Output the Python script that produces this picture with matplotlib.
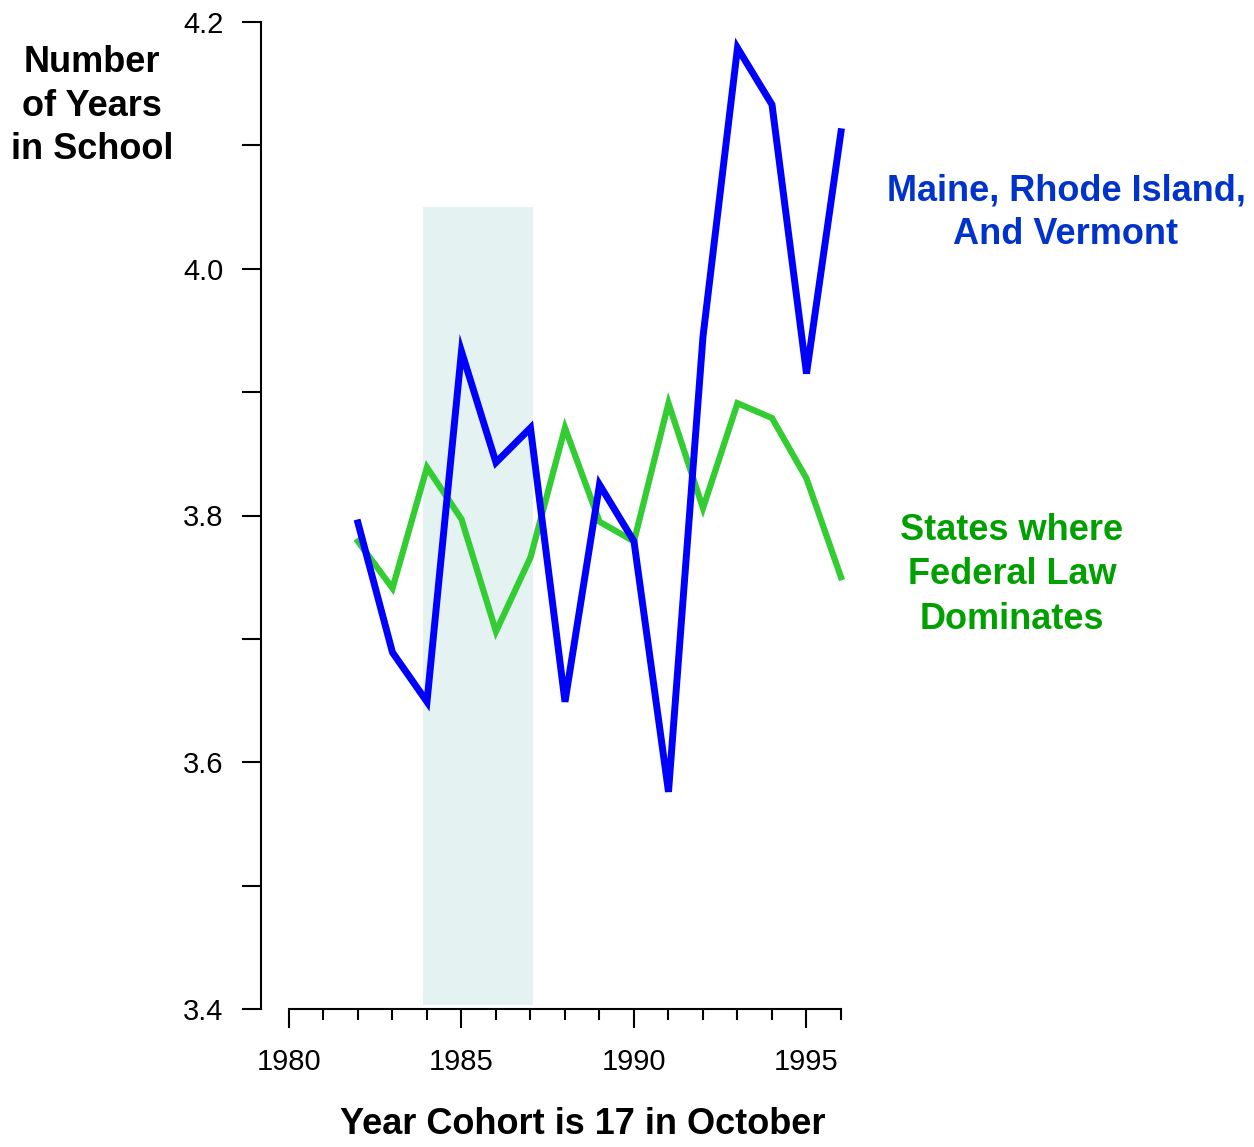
import numpy as np
import matplotlib.pyplot as plt
from matplotlib.ticker import MultipleLocator, FormatStrFormatter

plt.rcParams['font.family'] = ['Liberation Sans', 'DejaVu Sans']

years = np.arange(1982, 1997)
maine_ri_vt = [3.794, 3.689, 3.649, 3.933, 3.843, 3.871, 3.649, 3.825,
               3.779, 3.576, 3.945, 4.179, 4.133, 3.915, 4.111]
federal = [3.779, 3.741, 3.839, 3.797, 3.706, 3.766, 3.871, 3.795,
           3.779, 3.891, 3.806, 3.891, 3.879, 3.830, 3.750]
shade_years = (1983.88, 1987.07)
shade_bottom, shade_top = 3.403, 4.05

fig = plt.figure(figsize=(12.54, 11.47), dpi=100)
ax = fig.add_axes([261 / 1254, 1 - 1009 / 1147, (841 - 261) / 1254, (1009 - 22) / 1147])

ax.fill_between(shade_years, shade_bottom, shade_top, color='#e4f2f2', lw=0, zorder=0)
ax.plot(years, maine_ri_vt, color='#0000ff', lw=5, solid_joinstyle='miter',
        clip_on=False, zorder=3)
ax.plot(years, federal, color='#33cc33', lw=4.5, solid_joinstyle='miter',
        clip_on=False, zorder=2)

ax.set_xlim(1980 - 28 / 34.53, 1996)
ax.set_ylim(3.4, 4.2)
for s in ('top', 'right'):
    ax.spines[s].set_visible(False)
ax.spines['left'].set_bounds(3.4, 4.2)
ax.spines['bottom'].set_bounds(1980, 1996)
for s in ('left', 'bottom'):
    ax.spines[s].set_linewidth(1.5)

ax.xaxis.set_major_locator(MultipleLocator(5))
ax.xaxis.set_minor_locator(MultipleLocator(1))
ax.yaxis.set_major_locator(MultipleLocator(0.2))
ax.yaxis.set_minor_locator(MultipleLocator(0.1))
ax.yaxis.set_major_formatter(FormatStrFormatter('%.1f'))

ax.tick_params(axis='x', which='major', length=14, width=1.5, pad=14, labelsize=21)
ax.tick_params(axis='x', which='minor', length=8, width=1.5)
ax.tick_params(axis='y', which='both', length=14, width=1.5, pad=13, labelsize=21)

fig.text(92 / 1254, 1 - 106 / 1147, "Number\nof Years\nin School", ha='center', va='center',
         fontsize=26, fontweight='bold', linespacing=1.3)
fig.text(583 / 1254, 1 - 1125 / 1147, "Year Cohort is 17 in October", ha='center', va='center',
         fontsize=26, fontweight='bold')
fig.text(1066 / 1254, 1 - 213 / 1147, "Maine, Rhode Island,\nAnd Vermont", ha='center', va='center',
         fontsize=26, fontweight='bold', color='#0033cc', linespacing=1.3)
fig.text(1012 / 1254, 1 - 575 / 1147, "States where\nFederal Law\nDominates", ha='center', va='center',
         fontsize=26, fontweight='bold', color='#00a000', linespacing=1.35)

plt.savefig("out.png", dpi=100)
